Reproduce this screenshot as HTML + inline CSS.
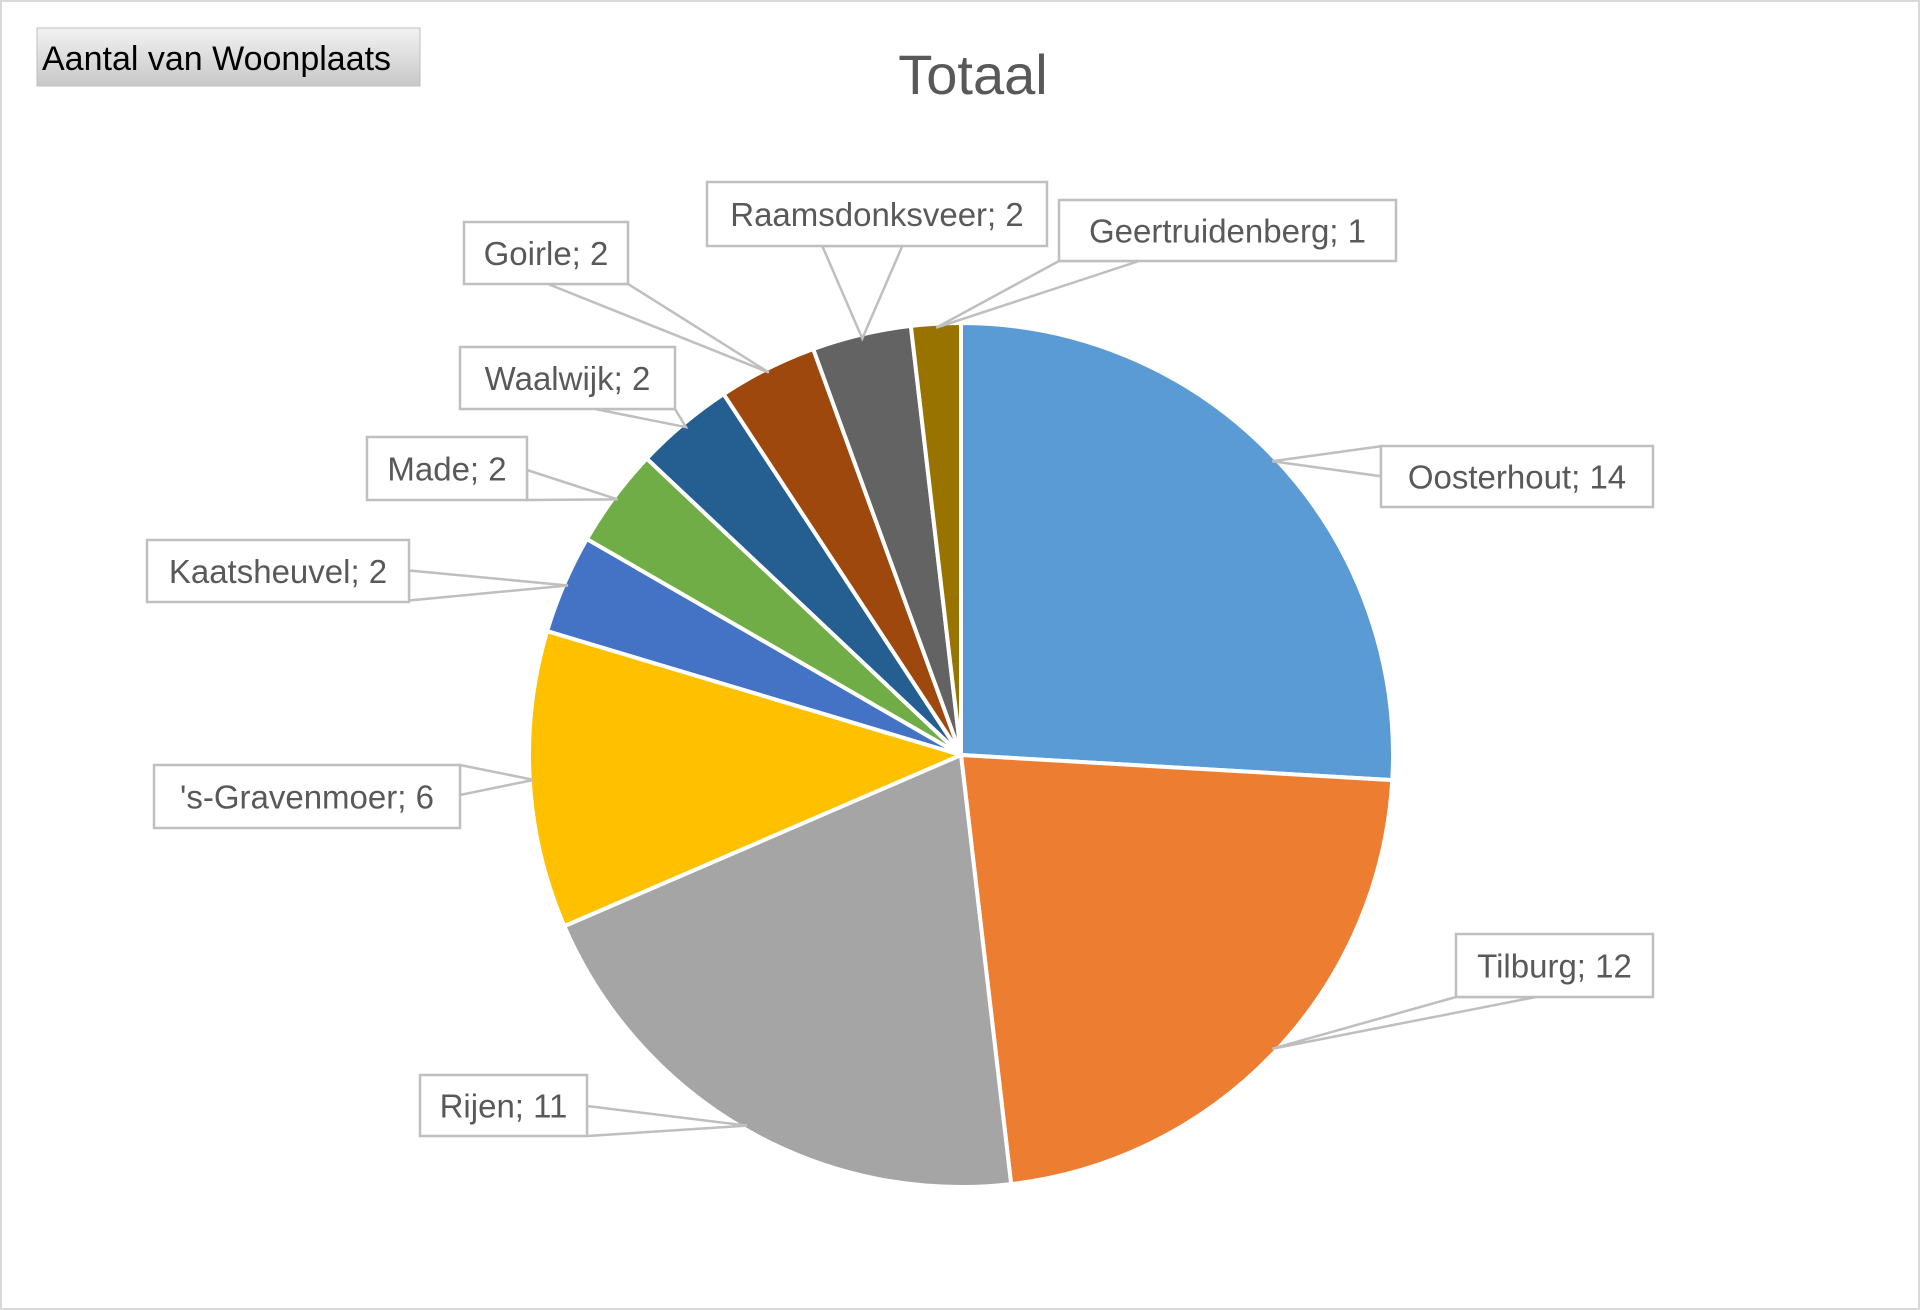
<!DOCTYPE html>
<html><head><meta charset="utf-8"><style>
body{margin:0;background:#fff;}
svg{display:block;font-family:"Liberation Sans",sans-serif;}
</style></head><body>
<svg id="chart" width="1920" height="1310">
<rect x="1" y="1" width="1918" height="1308" fill="#fff" stroke="#d9d9d9" stroke-width="2"/>
<defs><linearGradient id="btn" x1="0" y1="0" x2="0" y2="1"><stop offset="0" stop-color="#f2f2f2"/><stop offset="1" stop-color="#c8c8c8"/></linearGradient></defs>
<g>
<rect x="37" y="28" width="383" height="58" fill="url(#btn)" stroke="#bfbfbf"/>
<text x="42" y="70" font-size="34" fill="#000">Aantal van Woonplaats</text>
</g>
<text x="973" y="94" font-size="56" fill="#595959" text-anchor="middle">Totaal</text>
<g id="slices"></g>
<g id="labels"></g>
</svg>
<script>
const categories=["Oosterhout","Tilburg","Rijen","'s-Gravenmoer","Kaatsheuvel","Made","Waalwijk","Goirle","Raamsdonksveer","Geertruidenberg"];
const values=[14,12,11,6,2,2,2,2,2,1];
const colors=["#5B9BD5","#ED7D31","#A5A5A5","#FFC000","#4472C4","#70AD47","#255E91","#9E480E","#636363","#997300"];
const boxes=[[1381,446,272,61],[1456,934,197,63],[420,1075,167,61],[154,765,306,63],[147,540,262,62],[367,437,160,63],[460,347,215,62],[464,222,164,62],[707,182,340,64],[1059,200,337,61]];
const NS="http://www.w3.org/2000/svg";
const cx=961,cy=755,r=432;
const total=values.reduce((a,b)=>a+b,0);
const sg=document.getElementById('slices'),lg=document.getElementById('labels');
function pt(a,rr){return [cx+rr*Math.sin(a),cy-rr*Math.cos(a)];}
let acc=0;
values.forEach((v,i)=>{
  const a0=acc/total*2*Math.PI,a1=(acc+v)/total*2*Math.PI;acc+=v;
  const p0=pt(a0,r),p1=pt(a1,r);
  const p=document.createElementNS(NS,'path');
  p.setAttribute('d',`M${cx},${cy}L${p0[0]},${p0[1]}A${r},${r} 0 ${a1-a0>Math.PI?1:0} 1 ${p1[0]},${p1[1]}Z`);
  p.setAttribute('fill',colors[i]);p.setAttribute('stroke','#fff');p.setAttribute('stroke-width','4');
  
  
  sg.appendChild(p);
  const am=(a0+a1)/2,tip=pt(am,r-4);
  const [bx,by,bw,bh]=boxes[i];
  let b1,b2,w=40;
  if(tip[1]>by+bh){const x=Math.min(Math.max(tip[0],bx+w),bx+bw-w);b1=[x-w,by+bh];b2=[x+w,by+bh];}
  else if(tip[1]<by){const x=Math.min(Math.max(tip[0],bx+w),bx+bw-w);b1=[x-w,by];b2=[x+w,by];}
  else {const ex=tip[0]<bx?bx:bx+bw;const y=Math.min(Math.max(tip[1],by+15),by+bh-15);b1=[ex,y-15];b2=[ex,y+15];}
  const g=document.createElementNS(NS,'g');
  
  
  const pl=document.createElementNS(NS,'polygon');
  pl.setAttribute('points',`${b1} ${tip} ${b2}`);pl.setAttribute('fill','#fff');pl.setAttribute('stroke','#bfbfbf');pl.setAttribute('stroke-width','2.5');
  g.appendChild(pl);
  const rc=document.createElementNS(NS,'rect');
  rc.setAttribute('x',bx);rc.setAttribute('y',by);rc.setAttribute('width',bw);rc.setAttribute('height',bh);
  rc.setAttribute('fill','#fff');rc.setAttribute('stroke','#bfbfbf');rc.setAttribute('stroke-width','2.5');
  g.appendChild(rc);
  const t=document.createElementNS(NS,'text');
  t.setAttribute('x',bx+bw/2);t.setAttribute('y',by+bh/2+12);t.setAttribute('text-anchor','middle');
  t.setAttribute('font-size','33');t.setAttribute('fill','#595959');
  t.textContent=categories[i]+'; '+v;
  g.appendChild(t);
  lg.appendChild(g);
});
</script>
</body></html>
